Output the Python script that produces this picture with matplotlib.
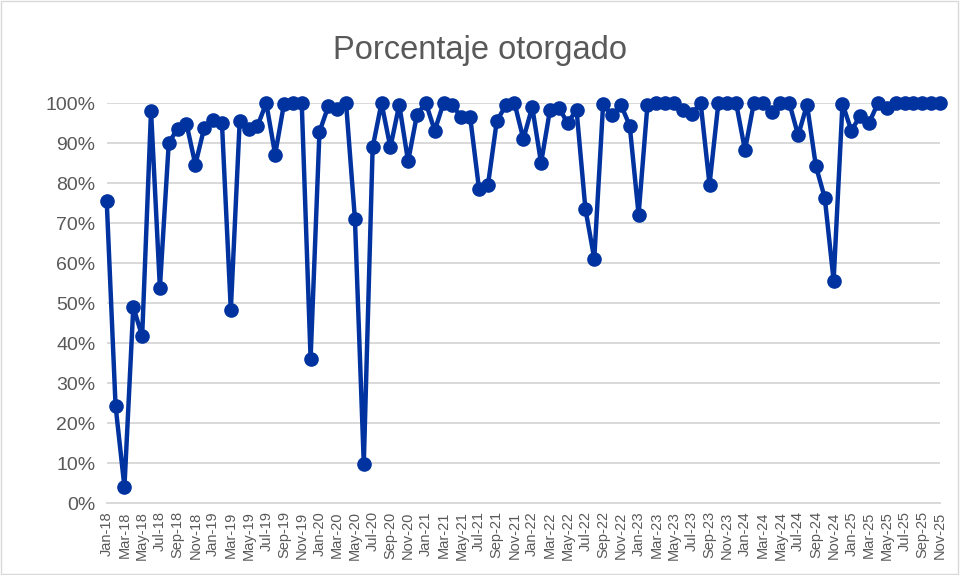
import matplotlib
matplotlib.use("Agg")
import matplotlib.pyplot as plt
from matplotlib.patches import Rectangle
from matplotlib.ticker import FuncFormatter, FixedLocator

months = ["Jan", "Feb", "Mar", "Apr", "May", "Jun", "Jul", "Aug", "Sep", "Oct", "Nov", "Dec"]
years = list(range(18, 26))

values = [
    75.6, 24.3, 4.0, 49.0, 41.7, 98.1, 53.8, 90.0, 93.6, 94.8, 84.6, 93.8,   # 2018
    95.7, 95.0, 48.2, 95.4, 93.5, 94.2, 100.0, 87.1, 99.8, 100.0, 100.0, 36.0,  # 2019
    92.8, 99.2, 98.5, 100.0, 71.0, 9.8, 88.9, 100.0, 88.9, 99.6, 85.4, 97.1,  # 2020
    100.0, 93.1, 100.0, 99.5, 96.4, 96.5, 78.5, 79.4, 95.4, 99.4, 100.0, 91.0,  # 2021
    99.0, 85.0, 98.2, 98.8, 95.0, 98.3, 73.5, 61.1, 99.8, 96.9, 99.6, 94.3,  # 2022
    72.1, 99.6, 100.0, 100.0, 100.0, 98.2, 97.3, 100.0, 79.6, 100.0, 100.0, 100.0,  # 2023
    88.2, 100.0, 100.0, 97.8, 100.0, 100.0, 91.9, 99.6, 84.2, 76.3, 55.6, 99.8,  # 2024
    93.1, 96.8, 95.0, 100.0, 98.7, 100.0, 100.0, 100.0, 100.0, 100.0, 100.0,  # 2025 (Jan-Nov)
]
categories = [f"{m}-{y}" for y in years for m in months][:len(values)]
ytick_values = [0, 10, 20, 30, 40, 50, 60, 70, 80, 90, 100]
title = "Porcentaje otorgado"

line_color = "#0033A0"
text_color = "#595959"
grid_color = "#D9D9D9"
fonts = ["Liberation Sans", "DejaVu Sans"]

fig = plt.figure(figsize=(9.6, 5.75), dpi=100)
fig.patches.append(Rectangle((0.001, 0.002), 0.997, 0.996, transform=fig.transFigure,
                             fill=False, edgecolor="#D9D9D9", linewidth=1.0))
ax = fig.add_axes([106.7 / 960, 1 - 503 / 575, (940 - 106.7) / 960, 400 / 575])

x = list(range(len(values)))
ax.plot(x, [v / 100 for v in values], color=line_color, linewidth=3.2,
        marker="o", markersize=9.5, markerfacecolor=line_color,
        markeredgecolor=line_color, clip_on=False, zorder=3)

ax.set_xlim(0, len(values) - 1)
ax.set_ylim(0, 1.0)
ax.yaxis.set_major_locator(FixedLocator([v / 100 for v in ytick_values]))
ax.yaxis.set_major_formatter(FuncFormatter(lambda v, p: f"{v*100:.0f}%"))
ax.grid(axis="y", color=grid_color, linewidth=1.4)
ax.set_axisbelow(True)
for s in ["top", "right", "left"]:
    ax.spines[s].set_visible(False)
ax.spines["bottom"].set_color(grid_color)
ax.spines["bottom"].set_linewidth(1.4)

ax.set_xticks(x[::2])
ax.set_xticklabels(categories[::2], rotation=90, fontsize=10.5, color=text_color,
                   family=fonts)
ax.tick_params(axis="x", length=0, pad=6)
ax.tick_params(axis="y", length=0, pad=8, labelsize=14, labelcolor=text_color)
for lbl in ax.get_yticklabels():
    lbl.set_family(fonts)

fig.text(0.5, 1 - 50 / 575, title, ha="center", va="center", fontsize=23.5,
         color=text_color, family=fonts)

fig.savefig("out.png", dpi=100)
